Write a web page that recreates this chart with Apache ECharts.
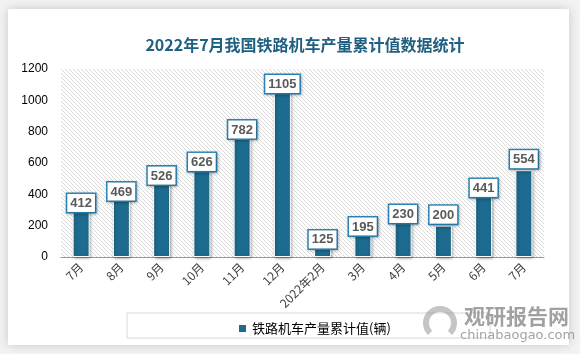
<!DOCTYPE html>
<html>
<head>
<meta charset="utf-8">
<script src="https://cdn.jsdelivr.net/npm/echarts@6/dist/echarts.min.js"></script>
<style>
  html, body { margin: 0; padding: 0; background: #f3f3f3; }
  #chart { width: 580px; height: 354px; }
</style>
</head>
<body>
<div id="chart"></div>
<script>
// 月份
var categories = ['7月', '8月', '9月', '10月', '11月', '12月', '2022年2月', '3月', '4月', '5月', '6月', '7月'];
// 铁路机车产量累计值(辆)
var values = [412, 469, 526, 626, 782, 1105, 125, 195, 230, 200, 441, 554];
var yTicks = [0, 200, 400, 600, 800, 1000, 1200];
// label box nudge (px) relative to bar top, like the hand-moved labels in the source
var labelShift = [9.5, 7, 0, 2, -6, -1, 1, -1, -8, -12, -1, -12];

var barColor = '#1d6b8f';

// hatched plot background
function hatch() {
  var c = document.createElement('canvas');
  c.width = 4; c.height = 4;
  var ctx = c.getContext('2d');
  ctx.fillStyle = '#ffffff';
  ctx.fillRect(0, 0, 4, 4);
  ctx.strokeStyle = '#dadada';
  ctx.lineWidth = 1;
  ctx.beginPath();
  ctx.moveTo(-1, -1); ctx.lineTo(5, 5);
  ctx.moveTo(3, -1); ctx.lineTo(5, 1);
  ctx.moveTo(-1, 3); ctx.lineTo(1, 5);
  ctx.stroke();
  return c;
}

var chart = echarts.init(document.getElementById('chart'));

var seriesData = values.map(function (v, i) {
  return {
    value: v,
    label: { offset: [0, 10 + labelShift[i]] }
  };
});

chart.setOption({
  backgroundColor: '#f3f3f3',
  animation: false,
  graphic: [
    {
      type: 'rect', z: -10,
      shape: { x: 8, y: 9, width: 561, height: 336 },
      style: { fill: '#ffffff', shadowBlur: 10, shadowColor: 'rgba(0,0,0,0.18)' }
    },
    {
      type: 'rect', z: -5,
      shape: { x: 127, y: 313, width: 363, height: 25 },
      style: { fill: '#ffffff', stroke: '#d9d9d9', lineWidth: 1 }
    },
    {
      type: 'arc', z: 20,
      shape: { cx: 440, cy: 323, r: 14, startAngle: Math.PI * 0.75, endAngle: Math.PI * 2.25 },
      style: { fill: null, stroke: 'rgba(150,150,150,0.55)', lineWidth: 6 }
    },
    {
      type: 'text', z: 20, left: 464, top: 306,
      style: { text: '观研报告网', fill: 'rgba(130,130,130,0.75)', font: 'bold 21px "Noto Sans CJK SC"' }
    },
    {
      type: 'text', z: 20, left: 460, top: 329,
      style: { text: 'chinabaogao.com', fill: 'rgba(140,140,140,0.8)', font: '13px "DejaVu Sans"' }
    }
  ],
  title: {
    text: '2022年7月我国铁路机车产量累计值数据统计',
    left: 300,
    textAlign: 'center',
    top: 32,
    textStyle: {
      color: '#1f5f80',
      fontSize: 16,
      fontWeight: 'bold',
      fontFamily: '"Noto Sans CJK SC"'
    }
  },
  legend: {
    left: 232,
    top: 317,
    itemWidth: 9,
    itemHeight: 9,
    itemGap: 5,
    icon: 'rect',
    textStyle: { color: '#000', fontSize: 13, fontFamily: '"Noto Sans CJK SC"' },
    data: ['铁路机车产量累计值(辆)']
  },
  grid: {
    left: 61,
    right: 36,
    top: 69,
    bottom: 97,
    show: true,
    borderWidth: 0,
    backgroundColor: { image: hatch(), repeat: 'repeat' }
  },
  xAxis: {
    type: 'category',
    data: categories,
    axisLine: { lineStyle: { color: '#999', width: 1 } },
    axisTick: { show: false },
    axisLabel: {
      rotate: 45,
      interval: 0,
      margin: 8,
      color: '#404040',
      fontSize: 12,
      fontFamily: '"Noto Sans CJK SC"'
    }
  },
  yAxis: {
    type: 'value',
    min: yTicks[0],
    max: yTicks[yTicks.length - 1],
    interval: yTicks[1] - yTicks[0],
    axisLine: { show: false },
    axisTick: { show: false },
    splitLine: { show: false },
    axisLabel: {
      color: '#000', fontSize: 12, margin: 13, fontFamily: 'Liberation Sans',
      formatter: function (v) { return String(v); }
    }
  },
  series: [{
    name: '铁路机车产量累计值(辆)',
    type: 'bar',
    barWidth: 17,
    data: seriesData,
    itemStyle: {
      color: barColor,
      borderColor: '#ffffff',
      borderWidth: 1,
      shadowBlur: 3,
      shadowColor: 'rgba(0,0,0,0.35)',
      shadowOffsetX: 1,
      shadowOffsetY: 1
    },
    label: {
      show: true,
      position: 'top',
      distance: 0,
      color: '#595959',
      fontSize: 13,
      fontWeight: 'bold',
      fontFamily: '"Liberation Sans"',
      backgroundColor: '#ffffff',
      borderColor: '#2a86b8',
      borderWidth: 1.5,
      padding: [3, 3, 2, 3],
      shadowBlur: 3,
      shadowColor: 'rgba(0,0,0,0.25)',
      shadowOffsetX: 1,
      shadowOffsetY: 1
    }
  }]
});
</script>
</body>
</html>
